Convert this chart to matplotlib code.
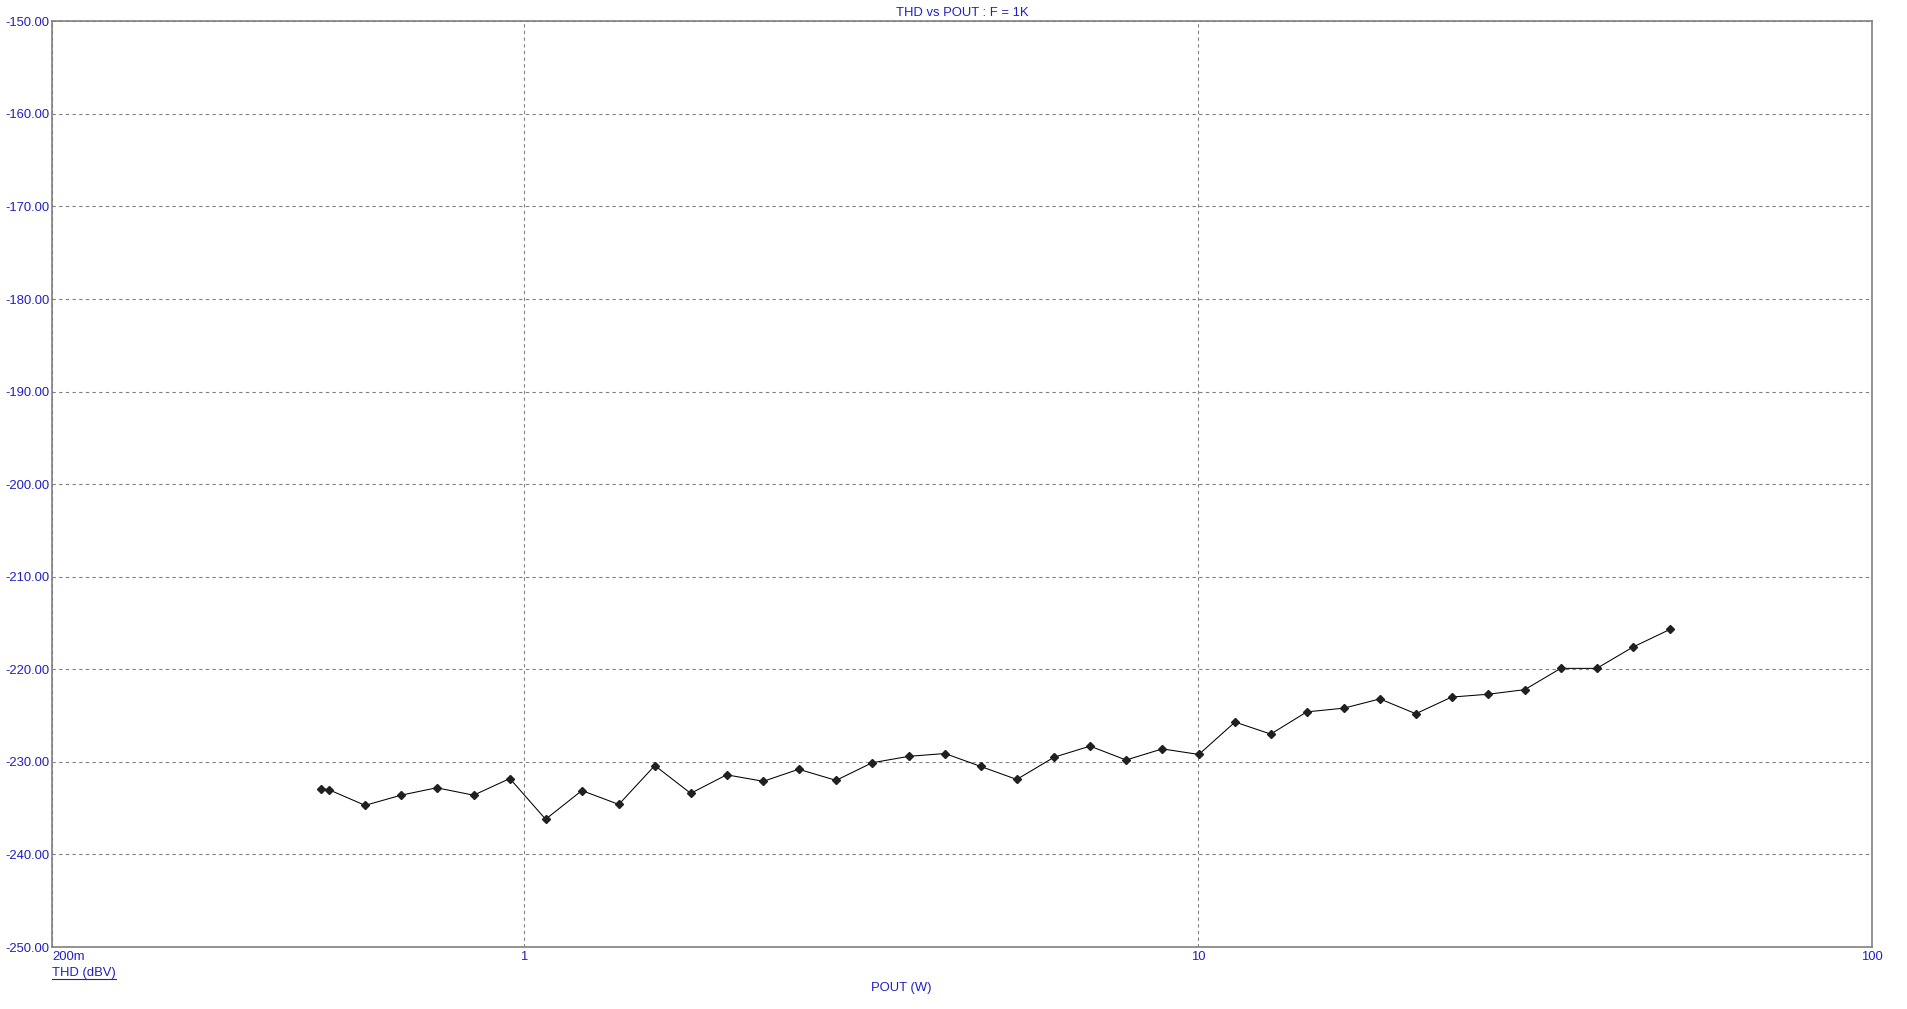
import numpy as np
import matplotlib.pyplot as plt
from matplotlib.lines import Line2D

# Data (F = 1 kHz)
pout_w = [0.500, 0.514, 0.582, 0.658, 0.743, 0.843, 0.954, 1.078, 1.220, 1.384,
          1.565, 1.769, 2.000, 2.267, 2.558, 2.906, 3.286, 3.728, 4.217, 4.764,
          5.386, 6.118, 6.918, 7.823, 8.854, 10.03, 11.35, 12.82, 14.50, 16.46,
          18.61, 21.04, 23.78, 26.90, 30.52, 34.51, 39.04, 44.16, 50.08]
thd_dbv = [-232.9, -233.0, -234.7, -233.6, -232.8, -233.6, -231.8, -236.2, -233.1, -234.6,
           -230.4, -233.4, -231.4, -232.1, -230.8, -232.0, -230.1, -229.4, -229.1, -230.5,
           -231.9, -229.5, -228.3, -229.8, -228.6, -229.2, -225.7, -227.0, -224.6, -224.2,
           -223.2, -224.8, -223.0, -222.7, -222.2, -219.9, -219.9, -217.6, -215.7]

x_ticks = [0.2, 1, 10, 100]
x_ticklabels = ['200m', '1', '10', '100']
y_ticks = np.arange(-250, -149, 10)

blue = '#2020C0'
fs = 9.4
plt.rcParams['font.family'] = ['Liberation Sans', 'DejaVu Sans']

W, H = 1907, 1009
fig = plt.figure(figsize=(W / 100, H / 100), dpi=100)
left, right, top, bottom = 52.3, 1872.3, 21.3, 947
ax = fig.add_axes([left / W, 1 - bottom / H, (right - left) / W, (bottom - top) / H])

ax.plot(pout_w, thd_dbv, color='black', lw=0.75, marker='D', ms=3.6,
        markerfacecolor='#202020', markeredgecolor='#202020')

ax.set_xscale('log')
ax.set_xlim(0.2, 100)
ax.set_ylim(-250, -150)
ax.set_xticks(x_ticks)
ax.set_xticklabels(x_ticklabels)
ax.xaxis.set_minor_locator(plt.NullLocator())
ax.set_yticks(y_ticks)
ax.set_yticklabels([f'{v:.2f}' for v in y_ticks])

ax.tick_params(length=0, labelsize=fs, labelcolor=blue)
ax.tick_params(axis='y', pad=2)
ax.tick_params(axis='x', pad=3)
ax.get_xticklabels()[0].set_horizontalalignment('left')

ax.grid(True, which='major', color='#808080', lw=0.8, linestyle=(0, (3, 3)))
for s in ax.spines.values():
    s.set_color('#808080')
    s.set_linewidth(1.2)

fig.text((left + right) / 2 / W, 1 - 13 / H, 'THD vs POUT : F = 1K',
         ha='center', va='center', color=blue, fontsize=fs)
fig.text(901 / W, 1 - 988 / H, 'POUT (W)', ha='center', va='center',
         color=blue, fontsize=fs)
t = fig.text(left / W, 1 - 973 / H, 'THD (dBV)', ha='left', va='center',
             color=blue, fontsize=fs)

# underline under the y quantity label
fig.canvas.draw()
bb = t.get_window_extent()
fig.add_artist(Line2D([bb.x0 / W, bb.x1 / W], [(bb.y0 + 0.5) / H] * 2,
                      color=blue, lw=0.8))

fig.savefig('out.png', dpi=100)
